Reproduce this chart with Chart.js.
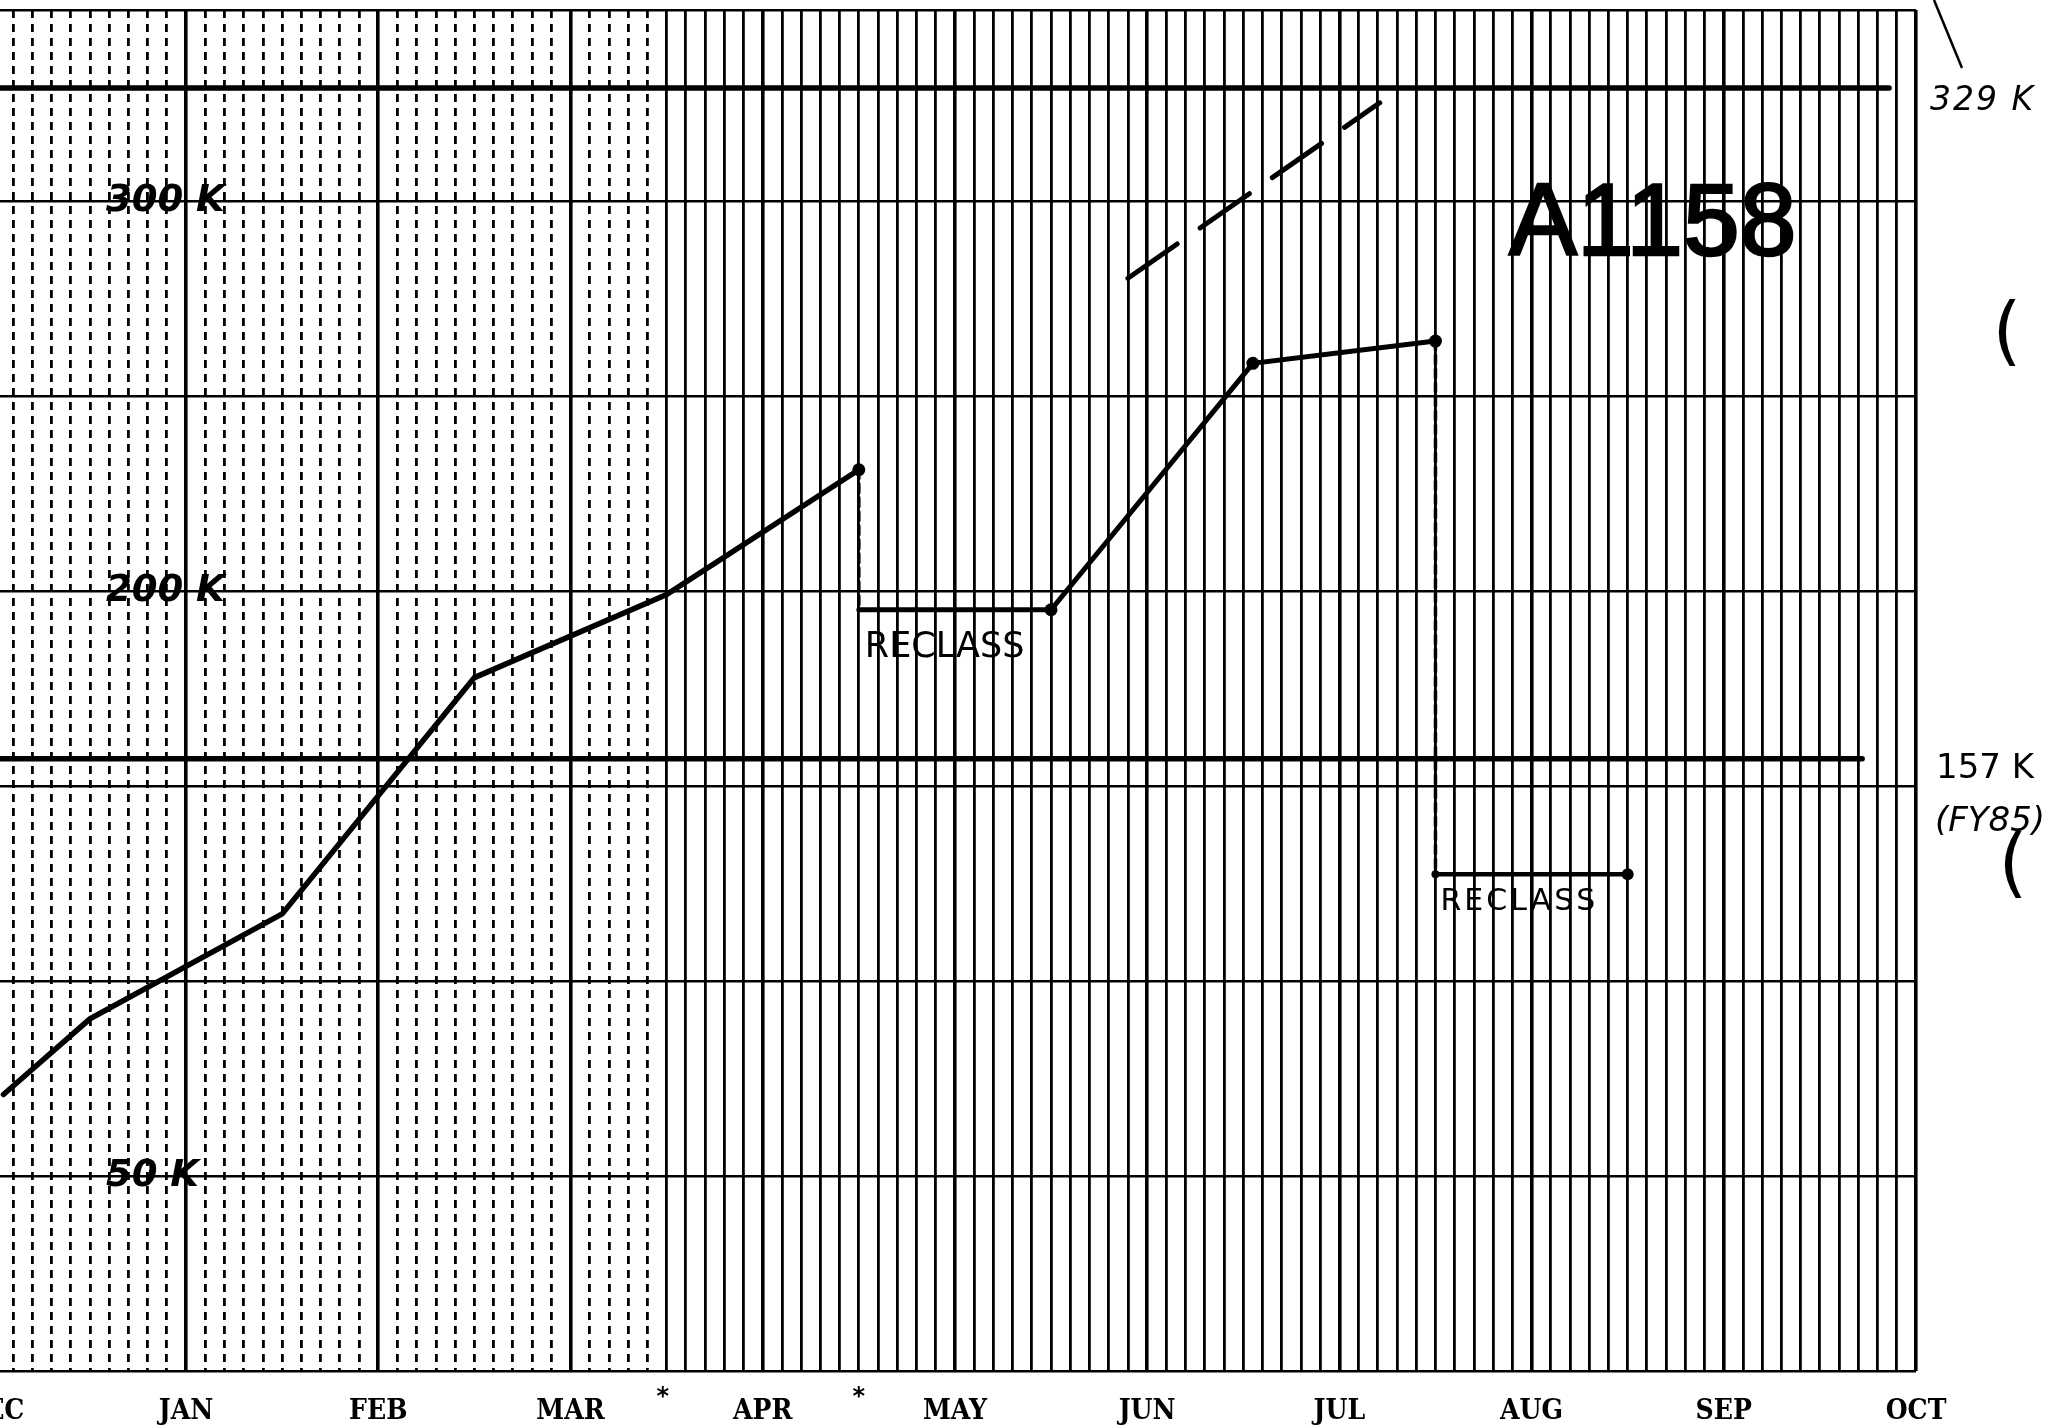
<!DOCTYPE html>
<html><head><meta charset="utf-8">
<script src="https://cdn.jsdelivr.net/npm/chart.js@4"></script>
<style>html,body{margin:0;padding:0;background:#fff;}canvas{display:block;}</style>
</head><body>
<canvas id="c" width="2065" height="1427"></canvas>
<script>
// ---- data (K = thousands) ----
const monthLabels = ['DEC','JAN','FEB','MAR','APR','MAY','JUN','JUL','AUG','SEP','OCT'];
const subdivisionsPerMonth = 10;
const yGridK = [0, 50, 100, 150, 200, 250, 300];
const yLabelK = [300, 200, 50];
const yLabelText = ['300 K', '200 K', '50 K'];

const actualX = [0.05, 0.5, 1.5, 2.5, 3.5, 4.5];
const actualK = [70.9, 90.3, 117.2, 177.8, 199.1, 231.1];
const reclassAX = [4.5, 5.5, 6.55, 7.5];
const reclassAK = [195.2, 195.2, 258.4, 264.1];
const reclassBX = [7.5, 8.5];
const reclassBK = [127.4, 127.4];
const projectionX = [5.9, 7.21];
const projectionK = [280.2, 325.2];
const targetK = [329, 157];
const targetEndX = [9.86, 9.72];
const targetText = ['329 K', '157 K'];
const targetNote = '(FY85)';
const reclassText = 'RECLASS';
const chartCode = 'A1158';
const asteriskX = [3.48, 4.5];

const X_MIN = 0.032, X_MAX = 10, Y_MAX = 349;

// ---- helpers ----
const pts = (xs, ys) => xs.map((v, i) => ({x: v, y: ys[i]}));
const gridTicks = [];
for (let k = 0; k <= (monthLabels.length - 1) * subdivisionsPerMonth; k++) gridTicks.push(k / subdivisionsPerMonth);
const isMonth = v => Math.abs(v - Math.round(v)) < 1e-6;

const datasets = [
  {data: pts(actualX, actualK), borderWidth: 5.5, pointRadius: actualX.map((_, i) => i === actualX.length - 1 ? 6.5 : 0)},
  {data: [{x: actualX[actualX.length - 1], y: actualK[actualK.length - 1]}, {x: reclassAX[0], y: reclassAK[0]}], borderWidth: 3.5, borderDash: [9, 5], pointRadius: 0},
  {data: pts(reclassAX, reclassAK), borderWidth: 5, pointRadius: reclassAX.map((_, i) => i === 0 ? 0 : 6.5)},
  {data: [{x: reclassAX[reclassAX.length - 1], y: reclassAK[reclassAK.length - 1]}, {x: reclassBX[0], y: reclassBK[0]}], borderWidth: 3.5, borderDash: [9, 5], pointRadius: 0},
  {data: pts(reclassBX, reclassBK), borderWidth: 4.5, pointRadius: [4, 6]},
  {data: pts(projectionX, projectionK), borderWidth: 5, borderDash: [60, 28], pointRadius: 0},
  {data: [{x: X_MIN, y: targetK[0]}, {x: targetEndX[0], y: targetK[0]}], borderWidth: 5.5, pointRadius: 0},
  {data: [{x: X_MIN, y: targetK[1]}, {x: targetEndX[1], y: targetK[1]}], borderWidth: 5.5, pointRadius: 0}
].map(d => Object.assign({showLine: true, borderColor: '#000', backgroundColor: '#000', pointBackgroundColor: '#000', pointBorderWidth: 0, borderCapStyle: 'round', tension: 0, fill: false}, d));

// plot area starts at the very left edge of the sheet (scan is cut there)
const flushLeft = {
  id: 'flushLeft',
  afterLayout(chart) {
    const ca = chart.chartArea;
    const {x, y} = chart.scales;
    ca.left = 0;
    ca.width = ca.right - ca.left;
    x.left = 0;
    x.width = x.right - x.left;
    x.configure();
    y.left = 0;
    y.right = 0;
    y.width = 0;
  }
};

const annotations = {
  id: 'annotations',
  afterDraw(chart) {
    const {ctx, scales: {x, y}} = chart;
    ctx.save();
    ctx.fillStyle = '#000';
    ctx.strokeStyle = '#000';
    ctx.textBaseline = 'alphabetic';
    ctx.textAlign = 'left';

    ctx.font = '102px "Liberation Sans", Arial, sans-serif';
    ctx.lineWidth = 2.5;
    ctx.fillText(chartCode, 1509, 255);
    ctx.strokeText(chartCode, 1509, 255);

    ctx.font = '35px "DejaVu Sans", sans-serif';
    ctx.fillText(reclassText, x.getPixelForValue(reclassAX[0]) + 6, y.getPixelForValue(reclassAK[0]) + 47);
    ctx.font = '30px "DejaVu Sans", sans-serif';
    ctx.letterSpacing = '3px';
    ctx.fillText(reclassText, x.getPixelForValue(reclassBX[0]) + 5, y.getPixelForValue(reclassBK[0]) + 36);

    ctx.font = 'italic 33px "DejaVu Sans", sans-serif';
    ctx.letterSpacing = '2px';
    ctx.fillText(targetText[0], 1930, y.getPixelForValue(targetK[0]) + 22);
    ctx.font = '34px "DejaVu Sans", sans-serif';
    ctx.letterSpacing = '0px';
    ctx.fillText(targetText[1], 1936, y.getPixelForValue(targetK[1]) + 19);
    ctx.font = 'italic 34px "DejaVu Sans", sans-serif';
    ctx.fillText(targetNote, 1935, y.getPixelForValue(targetK[1]) + 72);

    ctx.font = '74px "DejaVu Sans", sans-serif';
    ctx.textAlign = 'center';
    ctx.fillText('(', 2007, 356);
    ctx.fillText('(', 2013, 888);

    ctx.font = 'bold 24px "DejaVu Sans", sans-serif';
    asteriskX.forEach(v => ctx.fillText('*', x.getPixelForValue(v), 1404));

    ctx.lineWidth = 2.5;
    ctx.beginPath();
    ctx.moveTo(1934, 0);
    ctx.lineTo(1962, 68);
    ctx.stroke();
    ctx.restore();
  }
};

new Chart(document.getElementById('c'), {
  type: 'scatter',
  data: {datasets},
  plugins: [flushLeft, annotations],
  options: {
    responsive: false,
    devicePixelRatio: 1,
    animation: false,
    layout: {padding: {left: 0, right: 149, top: 10, bottom: 0}},
    plugins: {legend: {display: false}, tooltip: {enabled: false}},
    scales: {
      x: {
        type: 'linear', min: X_MIN, max: X_MAX,
        afterBuildTicks: s => { s.ticks = gridTicks.map(v => ({value: v})); },
        afterFit: s => { s.height = 56; s.paddingLeft = 0; s.paddingRight = 0; },
        ticks: {
          autoSkip: false, maxRotation: 0, minRotation: 0, padding: 24, color: '#000',
          font: {family: '"DejaVu Serif Condensed", "Liberation Serif", serif', weight: 'bold', size: 28},
          callback: v => isMonth(v) ? monthLabels[Math.round(v)] : ''
        },
        grid: {
          color: '#000', drawTicks: false,
          lineWidth: c => (c.tick && isMonth(c.tick.value)) ? 3.6 : 2.8
        },
        border: {
          display: false,
          dash: c => (c.tick && !isMonth(c.tick.value) && c.tick.value < 3.5) ? [8, 6] : []
        }
      },
      y: {
        type: 'linear', min: 0, max: Y_MAX,
        afterBuildTicks: s => { s.ticks = yGridK.concat([Y_MAX]).map(v => ({value: v})); },
        afterFit: s => { s.width = 0; s.paddingTop = 0; s.paddingBottom = 0; },
        ticks: {
          mirror: true, padding: 106, color: '#000',
          font: {family: '"DejaVu Sans", sans-serif', weight: 'bold', style: 'italic', size: 37},
          callback: v => { const i = yLabelK.indexOf(v); return i >= 0 ? yLabelText[i] : ''; }
        },
        grid: {color: '#000', drawTicks: false, lineWidth: 2.6},
        border: {display: false}
      }
    }
  }
});
</script>
</body></html>
